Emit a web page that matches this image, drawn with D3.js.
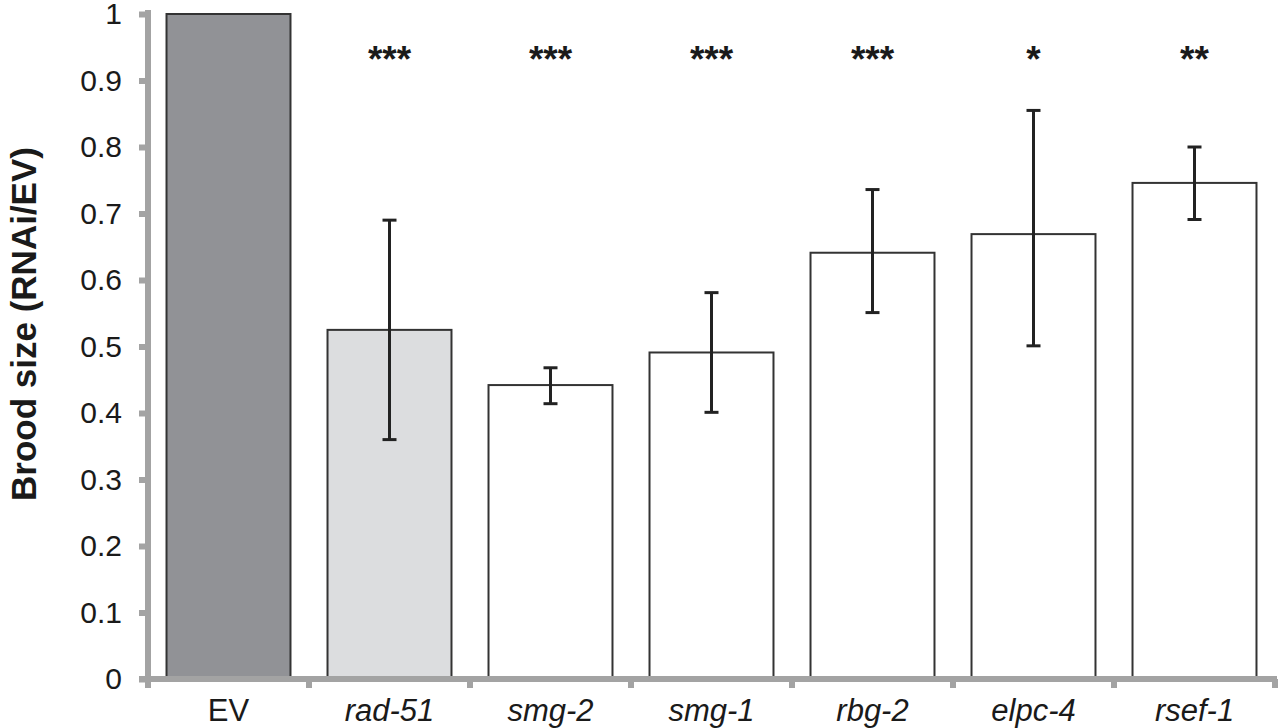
<!DOCTYPE html>
<html>
<head>
<meta charset="utf-8">
<script src="https://cdn.jsdelivr.net/npm/d3@7"></script>
<style>
  body { margin: 0; background: #fff; }
  svg text { font-family: "Liberation Sans", Arial, sans-serif; fill: #1a1a1a; }
</style>
</head>
<body>
<svg id="chart" width="1280" height="728"></svg>
<script>
const categories = ["EV", "rad-51", "smg-2", "smg-1", "rbg-2", "elpc-4", "rsef-1"]
const italicCats = ["rad-51", "smg-2", "smg-1", "rbg-2", "elpc-4", "rsef-1"]
const means = [1.0, 0.525, 0.442, 0.491, 0.641, 0.669, 0.746]
const errLow = [null, 0.36, 0.414, 0.401, 0.551, 0.501, 0.691]
const errHigh = [null, 0.69, 0.468, 0.581, 0.736, 0.855, 0.800]
const stars = ["", "***", "***", "***", "***", "*", "**"]
const fills = ["#919296", "#dcdddf", "#fff", "#fff", "#fff", "#fff", "#fff"]
const yTicks = [0, 0.1, 0.2, 0.3, 0.4, 0.5, 0.6, 0.7, 0.8, 0.9, 1]

const axisColor = "#a3a3a3"
const svg = d3.select('#chart')

const xScale = d3.scaleBand()
  .domain(categories)
  .range([148, 1275])
  .paddingInner(0.23)
  .paddingOuter(0.115)

const yScale = d3.scaleLinear()
  .domain([0, 1])
  .range([679, 14])

const data = categories.map((c, i) => ({
  cat: c, mean: means[i], lo: errLow[i], hi: errHigh[i], star: stars[i], fill: fills[i]
}))

// bars
svg.append('g')
  .selectAll('rect')
  .data(data)
  .join('rect')
    .attr('x', d => xScale(d.cat))
    .attr('y', d => yScale(d.mean))
    .attr('width', xScale.bandwidth())
    .attr('height', d => yScale(0) - yScale(d.mean))
    .attr('fill', d => d.fill)
    .attr('stroke', '#333')
    .attr('stroke-width', 2)

// error bars
const errs = svg.append('g')
  .selectAll('g')
  .data(data.filter(d => d.lo != null))
  .join('g')
    .attr('stroke', '#222')
    .attr('stroke-width', 3)

errs.append('line')
  .attr('x1', d => xScale(d.cat) + xScale.bandwidth() / 2)
  .attr('x2', d => xScale(d.cat) + xScale.bandwidth() / 2)
  .attr('y1', d => yScale(d.lo))
  .attr('y2', d => yScale(d.hi))

errs.selectAll('line.cap')
  .data(d => [[d, d.lo], [d, d.hi]])
  .join('line')
    .attr('class', 'cap')
    .attr('x1', d => xScale(d[0].cat) + xScale.bandwidth() / 2 - 7)
    .attr('x2', d => xScale(d[0].cat) + xScale.bandwidth() / 2 + 7)
    .attr('y1', d => yScale(d[1]))
    .attr('y2', d => yScale(d[1]))

// significance stars
svg.append('g')
  .selectAll('text')
  .data(data)
  .join('text')
    .attr('x', d => xScale(d.cat) + xScale.bandwidth() / 2)
    .attr('y', 72)
    .attr('text-anchor', 'middle')
    .style('font-size', '37px')
    .style('font-weight', 'bold')
    .text(d => d.star)

// y axis
const yAxis = svg.append('g')
  .attr('transform', 'translate(148, 0)')
  .call(d3.axisLeft(yScale)
    .tickValues(yTicks)
    .tickFormat(d => d3.format('')(d))
    .tickSize(9)
    .tickPadding(17))
yAxis.select('.domain').remove()
yAxis.selectAll('.tick line').attr('stroke', axisColor).attr('stroke-width', 6)
yAxis.selectAll('.tick text')
  .style('font-size', '30px')
  .attr('fill', '#1a1a1a')
yAxis.append('line')
  .attr('x1', 0).attr('x2', 0)
  .attr('y1', yScale(1) - 4).attr('y2', yScale(0) + 3)
  .attr('stroke', axisColor).attr('stroke-width', 6)

// x axis
const boundaries = categories.map(c => xScale(c) - xScale.step() * xScale.paddingInner() / 2)
boundaries.push(1275)
const xAxis = svg.append('g')
  .attr('transform', `translate(0, ${yScale(0)})`)
xAxis.append('line')
  .attr('x1', 139).attr('x2', 1277)
  .attr('y1', 0).attr('y2', 0)
  .attr('stroke', axisColor).attr('stroke-width', 6)
xAxis.selectAll('line.tk')
  .data(boundaries)
  .join('line')
    .attr('class', 'tk')
    .attr('x1', d => d).attr('x2', d => d)
    .attr('y1', 0).attr('y2', 9)
    .attr('stroke', axisColor).attr('stroke-width', 6)
xAxis.selectAll('text')
  .data(categories)
  .join('text')
    .attr('x', d => xScale(d) + xScale.bandwidth() / 2)
    .attr('y', 42)
    .attr('text-anchor', 'middle')
    .style('font-size', '31px')
    .style('font-style', d => italicCats.includes(d) ? 'italic' : 'normal')
    .text(d => d)

// y label
svg.append('text')
  .attr('transform', 'translate(36, 324) rotate(-90)')
  .attr('text-anchor', 'middle')
  .style('font-size', '35px')
  .style('font-weight', 'bold')
  .text('Brood size (RNAi/EV)')
</script>
</body>
</html>
